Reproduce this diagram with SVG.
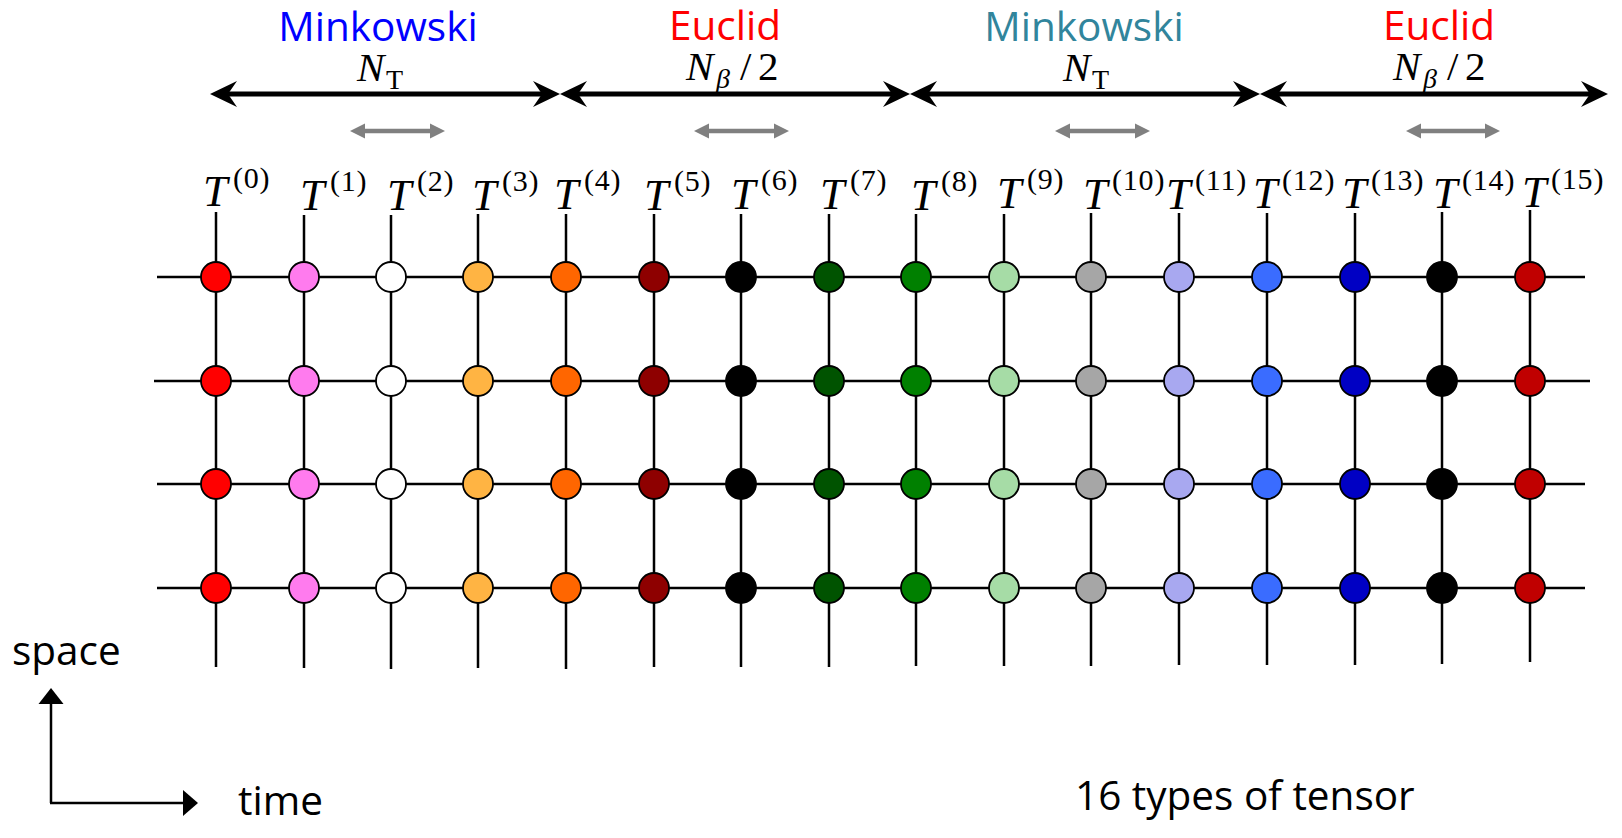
<svg xmlns="http://www.w3.org/2000/svg" width="1622" height="838" viewBox="0 0 1622 838">
<style>
.sans{font-family:"Open Sans","Noto Sans","Liberation Sans",sans-serif;font-size:40.5px}
.math{font-family:"Liberation Serif","DejaVu Serif",serif}
.it{font-style:italic}
.grid line{stroke:#000;stroke-width:2.5}
.big{stroke:#000;stroke-width:5}
.small{stroke:#808080;stroke-width:4.5}
.node circle{stroke:#000;stroke-width:1.8}
.Tm{font-size:44px;font-style:italic}
.Ts{font-size:30px;letter-spacing:0.8px}
.c0{fill:#FF0000}.c1{fill:#FF7BEE}.c2{fill:#FFFFFF}.c3{fill:#FFB443}
.c4{fill:#FF6600}.c5{fill:#8E0000}.c6{fill:#000000}.c7{fill:#005300}
.c8{fill:#008000}.c9{fill:#A6DCA6}.c10{fill:#A6A6A6}.c11{fill:#A8A8F0}
.c12{fill:#3A6CFF}.c13{fill:#0000C4}.c14{fill:#000000}.c15{fill:#C00000}
</style>
<defs>
<marker id="bh" markerUnits="userSpaceOnUse" viewBox="-10 -14 30 28" refX="0" refY="0" markerWidth="30" markerHeight="28" orient="auto-start-reverse">
<path d="M0,0 L-9,-13 L18,0 L-9,13 Z" fill="#000"/>
</marker>
<marker id="gh" markerUnits="userSpaceOnUse" viewBox="-1 -9 18 18" refX="0" refY="0" markerWidth="18" markerHeight="18" orient="auto-start-reverse">
<path d="M0,-7.5 L15,0 L0,7.5 Z" fill="#808080"/>
</marker>
</defs>
<rect width="1622" height="838" fill="#fff"/>

<g id="headers" class="sans" text-anchor="middle">
<text x="378" y="41" fill="#0000FF">Minkowski</text>
<text x="725" y="40" fill="#FF0000">Euclid</text>
<text x="1084" y="41" fill="#31859C">Minkowski</text>
<text x="1439" y="40" fill="#FF0000">Euclid</text>
</g>

<g id="lengths" class="math">
<text x="357" y="81" font-size="41" class="it">N</text><text x="386" y="89" font-size="28">T</text>
<text x="1063" y="81" font-size="41" class="it">N</text><text x="1092" y="89" font-size="28">T</text>
<text x="686" y="80" font-size="41" class="it">N</text><text x="716" y="88" font-size="28" class="it">β</text><text x="740" y="80" font-size="41">/</text><text x="758" y="80" font-size="41">2</text>
<text x="1393" y="80" font-size="41" class="it">N</text><text x="1423" y="88" font-size="28" class="it">β</text><text x="1447" y="80" font-size="41">/</text><text x="1465" y="80" font-size="41">2</text>
</g>

<g id="span-arrows">
<line class="big" x1="228" y1="94" x2="542" y2="94" marker-start="url(#bh)" marker-end="url(#bh)"/>
<line class="big" x1="578" y1="94" x2="892" y2="94" marker-start="url(#bh)" marker-end="url(#bh)"/>
<line class="big" x1="928" y1="94" x2="1242" y2="94" marker-start="url(#bh)" marker-end="url(#bh)"/>
<line class="big" x1="1278" y1="94" x2="1590" y2="94" marker-start="url(#bh)" marker-end="url(#bh)"/>
<line class="small" x1="365" y1="131" x2="430" y2="131" marker-start="url(#gh)" marker-end="url(#gh)"/>
<line class="small" x1="709" y1="131" x2="774" y2="131" marker-start="url(#gh)" marker-end="url(#gh)"/>
<line class="small" x1="1070" y1="131" x2="1135" y2="131" marker-start="url(#gh)" marker-end="url(#gh)"/>
<line class="small" x1="1421" y1="131" x2="1485" y2="131" marker-start="url(#gh)" marker-end="url(#gh)"/>
</g>

<g id="tensor-labels" class="math">
<text class="Tm" x="203" y="206">T</text><text class="Ts" x="233" y="188">(0)</text>
<text class="Tm" x="300" y="210">T</text><text class="Ts" x="330" y="191">(1)</text>
<text class="Tm" x="387" y="210">T</text><text class="Ts" x="417" y="191">(2)</text>
<text class="Tm" x="472" y="210">T</text><text class="Ts" x="502" y="191">(3)</text>
<text class="Tm" x="554" y="209">T</text><text class="Ts" x="584" y="190">(4)</text>
<text class="Tm" x="644" y="210">T</text><text class="Ts" x="674" y="191">(5)</text>
<text class="Tm" x="731" y="209">T</text><text class="Ts" x="761" y="190">(6)</text>
<text class="Tm" x="820" y="209">T</text><text class="Ts" x="850" y="190">(7)</text>
<text class="Tm" x="911" y="210">T</text><text class="Ts" x="941" y="191">(8)</text>
<text class="Tm" x="997" y="208">T</text><text class="Ts" x="1027" y="189">(9)</text>
<text class="Tm" x="1083" y="209">T</text><text class="Ts" x="1112" y="190">(10)</text>
<text class="Tm" x="1166" y="209">T</text><text class="Ts" x="1195" y="190">(11)</text>
<text class="Tm" x="1253" y="208">T</text><text class="Ts" x="1282" y="190">(12)</text>
<text class="Tm" x="1342" y="208">T</text><text class="Ts" x="1371" y="190">(13)</text>
<text class="Tm" x="1433" y="208">T</text><text class="Ts" x="1462" y="190">(14)</text>
<text class="Tm" x="1522" y="207">T</text><text class="Ts" x="1551" y="189">(15)</text>
</g>

<g id="connectors" class="grid">
<line x1="157" y1="277" x2="1585" y2="277"/>
<line x1="154" y1="381" x2="1590" y2="381"/>
<line x1="157" y1="484" x2="1585" y2="484"/>
<line x1="157" y1="588" x2="1585" y2="588"/>
<line x1="216" y1="212" x2="216" y2="667"/>
<line x1="304" y1="215" x2="304" y2="668"/>
<line x1="391" y1="215" x2="391" y2="669"/>
<line x1="478" y1="214" x2="478" y2="668"/>
<line x1="566" y1="214" x2="566" y2="669"/>
<line x1="654" y1="214" x2="654" y2="667"/>
<line x1="741" y1="214" x2="741" y2="667"/>
<line x1="829" y1="214" x2="829" y2="667"/>
<line x1="916" y1="214" x2="916" y2="666"/>
<line x1="1004" y1="214" x2="1004" y2="666"/>
<line x1="1091" y1="213" x2="1091" y2="666"/>
<line x1="1179" y1="213" x2="1179" y2="665"/>
<line x1="1267" y1="213" x2="1267" y2="665"/>
<line x1="1355" y1="213" x2="1355" y2="665"/>
<line x1="1442" y1="212" x2="1442" y2="664"/>
<line x1="1530" y1="210" x2="1530" y2="662"/>
</g>

<g id="nodes">
<g id="T0-1" class="node"><circle class="c0" cx="216" cy="277" r="15"/></g>
<g id="T0-2" class="node"><circle class="c0" cx="216" cy="381" r="15"/></g>
<g id="T0-3" class="node"><circle class="c0" cx="216" cy="484" r="15"/></g>
<g id="T0-4" class="node"><circle class="c0" cx="216" cy="588" r="15"/></g>
<g id="T1-1" class="node"><circle class="c1" cx="304" cy="277" r="15"/></g>
<g id="T1-2" class="node"><circle class="c1" cx="304" cy="381" r="15"/></g>
<g id="T1-3" class="node"><circle class="c1" cx="304" cy="484" r="15"/></g>
<g id="T1-4" class="node"><circle class="c1" cx="304" cy="588" r="15"/></g>
<g id="T2-1" class="node"><circle class="c2" cx="391" cy="277" r="15"/></g>
<g id="T2-2" class="node"><circle class="c2" cx="391" cy="381" r="15"/></g>
<g id="T2-3" class="node"><circle class="c2" cx="391" cy="484" r="15"/></g>
<g id="T2-4" class="node"><circle class="c2" cx="391" cy="588" r="15"/></g>
<g id="T3-1" class="node"><circle class="c3" cx="478" cy="277" r="15"/></g>
<g id="T3-2" class="node"><circle class="c3" cx="478" cy="381" r="15"/></g>
<g id="T3-3" class="node"><circle class="c3" cx="478" cy="484" r="15"/></g>
<g id="T3-4" class="node"><circle class="c3" cx="478" cy="588" r="15"/></g>
<g id="T4-1" class="node"><circle class="c4" cx="566" cy="277" r="15"/></g>
<g id="T4-2" class="node"><circle class="c4" cx="566" cy="381" r="15"/></g>
<g id="T4-3" class="node"><circle class="c4" cx="566" cy="484" r="15"/></g>
<g id="T4-4" class="node"><circle class="c4" cx="566" cy="588" r="15"/></g>
<g id="T5-1" class="node"><circle class="c5" cx="654" cy="277" r="15"/></g>
<g id="T5-2" class="node"><circle class="c5" cx="654" cy="381" r="15"/></g>
<g id="T5-3" class="node"><circle class="c5" cx="654" cy="484" r="15"/></g>
<g id="T5-4" class="node"><circle class="c5" cx="654" cy="588" r="15"/></g>
<g id="T6-1" class="node"><circle class="c6" cx="741" cy="277" r="15"/></g>
<g id="T6-2" class="node"><circle class="c6" cx="741" cy="381" r="15"/></g>
<g id="T6-3" class="node"><circle class="c6" cx="741" cy="484" r="15"/></g>
<g id="T6-4" class="node"><circle class="c6" cx="741" cy="588" r="15"/></g>
<g id="T7-1" class="node"><circle class="c7" cx="829" cy="277" r="15"/></g>
<g id="T7-2" class="node"><circle class="c7" cx="829" cy="381" r="15"/></g>
<g id="T7-3" class="node"><circle class="c7" cx="829" cy="484" r="15"/></g>
<g id="T7-4" class="node"><circle class="c7" cx="829" cy="588" r="15"/></g>
<g id="T8-1" class="node"><circle class="c8" cx="916" cy="277" r="15"/></g>
<g id="T8-2" class="node"><circle class="c8" cx="916" cy="381" r="15"/></g>
<g id="T8-3" class="node"><circle class="c8" cx="916" cy="484" r="15"/></g>
<g id="T8-4" class="node"><circle class="c8" cx="916" cy="588" r="15"/></g>
<g id="T9-1" class="node"><circle class="c9" cx="1004" cy="277" r="15"/></g>
<g id="T9-2" class="node"><circle class="c9" cx="1004" cy="381" r="15"/></g>
<g id="T9-3" class="node"><circle class="c9" cx="1004" cy="484" r="15"/></g>
<g id="T9-4" class="node"><circle class="c9" cx="1004" cy="588" r="15"/></g>
<g id="T10-1" class="node"><circle class="c10" cx="1091" cy="277" r="15"/></g>
<g id="T10-2" class="node"><circle class="c10" cx="1091" cy="381" r="15"/></g>
<g id="T10-3" class="node"><circle class="c10" cx="1091" cy="484" r="15"/></g>
<g id="T10-4" class="node"><circle class="c10" cx="1091" cy="588" r="15"/></g>
<g id="T11-1" class="node"><circle class="c11" cx="1179" cy="277" r="15"/></g>
<g id="T11-2" class="node"><circle class="c11" cx="1179" cy="381" r="15"/></g>
<g id="T11-3" class="node"><circle class="c11" cx="1179" cy="484" r="15"/></g>
<g id="T11-4" class="node"><circle class="c11" cx="1179" cy="588" r="15"/></g>
<g id="T12-1" class="node"><circle class="c12" cx="1267" cy="277" r="15"/></g>
<g id="T12-2" class="node"><circle class="c12" cx="1267" cy="381" r="15"/></g>
<g id="T12-3" class="node"><circle class="c12" cx="1267" cy="484" r="15"/></g>
<g id="T12-4" class="node"><circle class="c12" cx="1267" cy="588" r="15"/></g>
<g id="T13-1" class="node"><circle class="c13" cx="1355" cy="277" r="15"/></g>
<g id="T13-2" class="node"><circle class="c13" cx="1355" cy="381" r="15"/></g>
<g id="T13-3" class="node"><circle class="c13" cx="1355" cy="484" r="15"/></g>
<g id="T13-4" class="node"><circle class="c13" cx="1355" cy="588" r="15"/></g>
<g id="T14-1" class="node"><circle class="c14" cx="1442" cy="277" r="15"/></g>
<g id="T14-2" class="node"><circle class="c14" cx="1442" cy="381" r="15"/></g>
<g id="T14-3" class="node"><circle class="c14" cx="1442" cy="484" r="15"/></g>
<g id="T14-4" class="node"><circle class="c14" cx="1442" cy="588" r="15"/></g>
<g id="T15-1" class="node"><circle class="c15" cx="1530" cy="277" r="15"/></g>
<g id="T15-2" class="node"><circle class="c15" cx="1530" cy="381" r="15"/></g>
<g id="T15-3" class="node"><circle class="c15" cx="1530" cy="484" r="15"/></g>
<g id="T15-4" class="node"><circle class="c15" cx="1530" cy="588" r="15"/></g>
</g>

<g id="axes">
<line x1="51" y1="803" x2="51" y2="702" stroke="#000" stroke-width="2.5"/>
<path d="M51,688 L38.5,704 L63.5,704 Z" fill="#000"/>
<line x1="50" y1="803" x2="184" y2="803" stroke="#000" stroke-width="2.5"/>
<path d="M198,803 L183,790 L183,816 Z" fill="#000"/>
<text class="sans" x="12" y="665">space</text>
<text class="sans" x="238" y="815">time</text>
</g>

<g id="caption"><text class="sans" x="1075" y="810">16 types of tensor</text></g>
</svg>
